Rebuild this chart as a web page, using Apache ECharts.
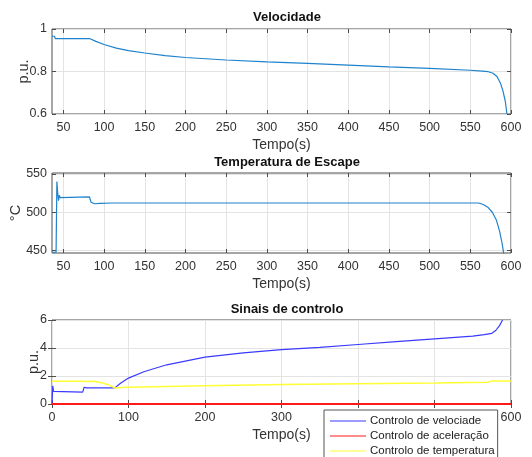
<!DOCTYPE html>
<html>
<head>
<meta charset="utf-8">
<script src="https://cdn.jsdelivr.net/npm/echarts@6/dist/echarts.min.js"></script>
<style>
  html, body { margin: 0; padding: 0; background: #fff; }
  #main { width: 532px; height: 457px; }
</style>
</head>
<body>
<div id="main"></div>
<script>
// Velocidade (p.u.)
var velT = [36, 39, 40, 41, 42, 82, 90, 100, 115, 130, 150, 175, 200, 250, 300, 350, 400, 450, 500, 550, 565, 572, 578, 583, 587, 590, 593, 595];
var velV = [0.966, 0.966, 0.955, 0.95, 0.955, 0.955, 0.942, 0.927, 0.910, 0.898, 0.887, 0.875, 0.866, 0.854, 0.845, 0.838, 0.830, 0.822, 0.815, 0.806, 0.802, 0.799, 0.792, 0.775, 0.745, 0.71, 0.66, 0.60];

// Temperatura de Escape (°C)
var tempT = [36, 41, 42, 43, 44, 45, 46, 48, 82, 84, 88, 95, 110, 200, 560, 566, 572, 577, 582, 586, 589, 592];
var tempV = [448, 448, 540, 525, 515, 522, 519, 520, 520, 513, 511, 511.5, 512, 512, 512, 510, 506, 500, 490, 475, 460, 440];

// Sinais de controlo (p.u.)
var velCtrlT = [0, 1, 2, 3, 40, 41, 42, 45, 82, 90, 100, 120, 150, 200, 250, 300, 350, 400, 450, 500, 550, 565, 575, 580, 585, 589];
var velCtrlV = [0, 1.3, 0.9, 0.85, 0.85, 1.0, 1.2, 1.15, 1.15, 1.5, 1.85, 2.3, 2.8, 3.35, 3.65, 3.88, 4.05, 4.25, 4.45, 4.65, 4.85, 4.95, 5.05, 5.25, 5.6, 6.0];
var acelCtrlT = [0, 600];
var acelCtrlV = [0, 0];
var tempCtrlT = [0, 40, 42, 45, 55, 65, 75, 82, 90, 100, 200, 300, 400, 500, 570, 575, 600];
var tempCtrlV = [1.62, 1.62, 1.55, 1.6, 1.62, 1.52, 1.35, 1.15, 1.17, 1.2, 1.3, 1.4, 1.45, 1.5, 1.55, 1.65, 1.65];

// tick labels
var ticksTop = [50, 100, 150, 200, 250, 300, 350, 400, 450, 500, 550, 600];
var ticksTemp = [450, 500, 550];
var titles = ['Velocidade', 'Temperatura de Escape', 'Sinais de controlo'];
var legendNames = ['Controlo de velociade', 'Controlo de aceleração', 'Controlo de temperatura'];

function zip(t, v) {
  var out = [];
  for (var i = 0; i < t.length; i++) out.push([t[i], v[i]]);
  return out;
}

var FONT = 'Liberation Sans, Arial, sans-serif';
var AX = '#4d4d4d';
var GRIDLINE = '#e3e3e3';

var grids = [
  { left: 52, top: 29, width: 459, height: 85 },
  { left: 52, top: 173, width: 459, height: 80 },
  { left: 52, top: 320, width: 459, height: 84 }
];

// x ranges per panel
var xCfg = [
  { min: 36, max: 600, custom: ticksTop },
  { min: 36, max: 600, custom: ticksTop },
  { min: 0, max: 600, interval: 100 }
];
var yCfg = [
  { min: 0.6, max: 1, interval: 0.2, name: 'p.u.', gap: 21 },
  { min: 447, max: 551, custom: ticksTemp, name: '°C', gap: 29 },
  { min: 0, max: 6, interval: 2, name: 'p.u.', gap: 11 }
];

var xAxes = [], yAxes = [];
grids.forEach(function(g, i) {
  var xc = xCfg[i], yc = yCfg[i];
  var xa = {
    type: 'value', gridIndex: i, min: xc.min, max: xc.max,
    name: 'Tempo(s)', nameLocation: 'middle', nameGap: 24, nameMoveOverlap: false,
    nameTextStyle: { color: '#333', fontSize: 14, fontFamily: FONT },
    axisLine: { show: false },
    axisTick: { inside: true, length: 4, lineStyle: { color: AX } },
    axisLabel: { color: '#333', fontSize: 12.5, fontFamily: FONT, margin: 7 },
    splitLine: { show: true, lineStyle: { color: GRIDLINE } }
  };
  if (xc.interval) xa.interval = xc.interval;
  if (xc.custom) {
    xa.axisLabel.customValues = xc.custom;
    xa.axisTick.customValues = xc.custom;
  }
  xAxes.push(xa);
  // top tick marks
  var xt = {
    type: 'value', gridIndex: i, position: 'top', min: xc.min, max: xc.max,
    axisLine: { show: false }, axisLabel: { show: false }, splitLine: { show: false },
    axisTick: { inside: true, length: 4, lineStyle: { color: AX } }
  };
  if (xc.interval) xt.interval = xc.interval;
  if (xc.custom) xt.axisTick.customValues = xc.custom;
  xAxes.push(xt);

  var ya = {
    type: 'value', gridIndex: i, min: yc.min, max: yc.max,
    name: yc.name, nameLocation: 'middle', nameGap: yc.gap, nameMoveOverlap: false,
    nameTextStyle: { color: '#333', fontSize: 14.5, fontFamily: FONT },
    axisLine: { show: false },
    axisTick: { inside: true, length: 4, lineStyle: { color: AX } },
    axisLabel: { color: '#333', fontSize: 12.5, fontFamily: FONT, margin: 5 },
    splitLine: { show: true, lineStyle: { color: GRIDLINE } }
  };
  if (yc.interval) ya.interval = yc.interval;
  if (yc.custom) {
    ya.axisLabel.customValues = yc.custom;
    ya.axisTick.customValues = yc.custom;
  }
  yAxes.push(ya);
  var yr = {
    type: 'value', gridIndex: i, position: 'right', min: yc.min, max: yc.max,
    axisLine: { show: false }, axisLabel: { show: false }, splitLine: { show: false },
    axisTick: { inside: true, length: 4, lineStyle: { color: AX } }
  };
  if (yc.interval) yr.interval = yc.interval;
  if (yc.custom) yr.axisTick.customValues = yc.custom;
  yAxes.push(yr);
});

var gridOpts = grids.map(function(g) {
  return Object.assign({
    show: true, borderColor: AX, borderWidth: 1, backgroundColor: 'transparent',
    containLabel: false, outerBoundsMode: 'none'
  }, g);
});

var titleOpts = [
  { text: titles[0], top: 6 },
  { text: titles[1], top: 151 },
  { text: titles[2], top: 298 }
].map(function(t) {
  return {
    text: t.text, left: 282, top: t.top, textAlign: 'center',
    textStyle: { fontSize: 13, fontWeight: 'bold', color: '#111', fontFamily: FONT }
  };
});

function lineSeries(name, x, y, data, color, w) {
  return {
    name: name, type: 'line', xAxisIndex: x, yAxisIndex: y, data: data,
    showSymbol: false, symbol: 'none', smooth: false, animation: false,
    lineStyle: { color: color, width: w || 1.2 }, itemStyle: { color: color }
  };
}

var chart = echarts.init(document.getElementById('main'));
chart.setOption({
  backgroundColor: '#fff',
  animation: false,
  title: titleOpts,
  grid: gridOpts,
  xAxis: xAxes,
  yAxis: yAxes,
  legend: {
    data: legendNames,
    orient: 'vertical', left: 324, top: 410, height: 80,
    itemWidth: 36, itemHeight: 8, itemGap: 3,
    selectedMode: false,
    backgroundColor: '#fff', borderColor: '#555', borderWidth: 1,
    padding: [5, 3, 24, 6],
    icon: 'path://M0,4L36,4L36,5L0,5Z',
    textStyle: { fontSize: 11.5, color: '#222', fontFamily: FONT, padding: [0, 0, 0, -1] },
    z: 10
  },
  series: [
    lineSeries('vel', 0, 0, zip(velT, velV), '#1f82cc'),
    lineSeries('temp', 2, 2, zip(tempT, tempV), '#1f82cc'),
    lineSeries(legendNames[0], 4, 4, zip(velCtrlT, velCtrlV), '#3a3aff'),
    lineSeries(legendNames[1], 4, 4, zip(acelCtrlT, acelCtrlV), '#ff1a1a', 2),
    lineSeries(legendNames[2], 4, 4, zip(tempCtrlT, tempCtrlV), '#ffff33', 1.5)
  ]
});
</script>
</body>
</html>
